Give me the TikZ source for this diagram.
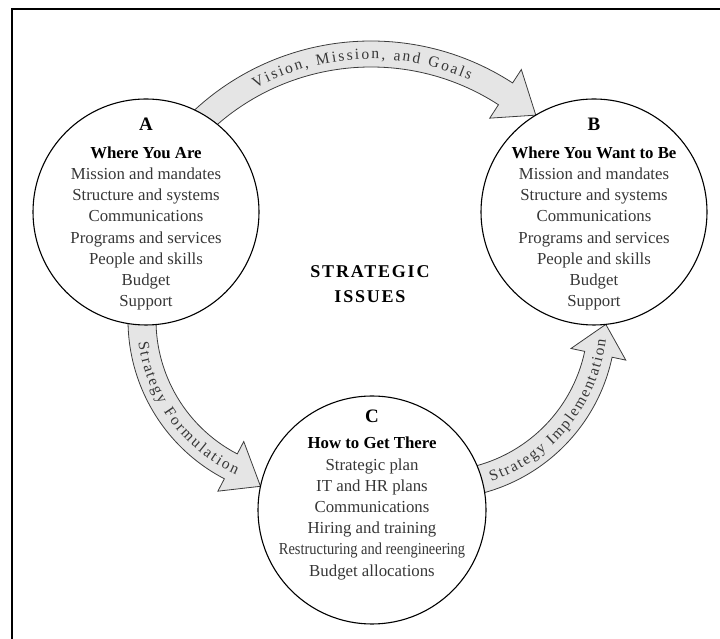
\documentclass[tikz,border=0pt]{standalone}
\usepackage{fontspec}
\setmainfont{Liberation Serif}
\usetikzlibrary{calc,backgrounds,decorations.text}

\definecolor{bandfill}{RGB}{229,229,229}
\definecolor{bandline}{RGB}{60,60,60}
\definecolor{bodygray}{RGB}{55,55,55}
\newcommand{\bandfont}{\fontsize{15.5}{15.5}\selectfont}
\newcommand{\stageletter}[1]{{\fontsize{19}{21}\selectfont\bfseries\color{black}#1}}
\newcommand{\stagehead}[1]{{\bfseries\color{black}#1}}

\begin{document}
\begin{tikzpicture}[
            x=1pt, y=1pt,
            stage/.style={circle, draw=black, line width=1.1pt, fill=white, minimum size=226pt, inner sep=0pt, outer sep=0pt},
            stagetext/.style={align=center, text=bodygray, font=\fontsize{16.8}{21.2}\selectfont},
            band/.style={draw=bandline, line width=0.8pt, fill=bandfill},
            bandtext/.style={decorate, decoration={text along path, text align={fit to path}, raise=-5pt, text color=bodygray}}
        ]
            \useasboundingbox (0,0) rectangle (720,639);
            \clip (0,0) rectangle (720,639);

            % the three stages
            \node[stage] (A) at (146,427) {};
            \node[stage] (B) at (594,427) {};
            \node[stage, minimum size=228pt] (C) at (372,129) {};

            % centres of the curved arrows
            \coordinate (vis) at (371,338);
            \coordinate (frm) at (307,319);
            \coordinate (imp) at (437,319);

            \begin{scope}[on background layer]
                \draw[line width=1.8pt] (11.8,-10) rectangle (740,630);

                % A -> B
                \draw[band] ($(vis)+(135:260)$) arc[start angle=135, end angle=57, radius=260]
                    -- ($(vis)+(57:276)$) -- (B.121) -- ($(vis)+(57:218)$)
                    -- ($(vis)+(57:234)$) arc[start angle=57, end angle=135, radius=234] -- cycle;
                \path[bandtext, decoration={text={|\bandfont|Vision, Mission, and Goals}}]
                    ($(vis)+(118.5:247)$) arc[start angle=118.5, end angle=66, radius=247];

                % A -> C
                \draw[band] ($(frm)+(-185:179)$) arc[start angle=-185, end angle=-117.5, radius=179]
                    -- ($(frm)+(-117.5:193)$) -- (C.168) -- ($(frm)+(-117.5:137)$)
                    -- ($(frm)+(-117.5:151)$) arc[start angle=-117.5, end angle=-185, radius=151] -- cycle;
                \path[bandtext, decoration={text={|\bandfont|Strategy Formulation}}]
                    ($(frm)+(-172.5:165)$) arc[start angle=-172.5, end angle=-114.6, radius=165];

                % C -> B
                \draw[band] ($(imp)+(-80:179)$) arc[start angle=-80, end angle=-12, radius=179]
                    -- ($(imp)+(-12:193)$) -- (B.-84) -- ($(imp)+(-12:137)$)
                    -- ($(imp)+(-12:151)$) arc[start angle=-12, end angle=-80, radius=151] -- cycle;
                \path[bandtext, decoration={text={|\bandfont|Strategy Implementation}}]
                    ($(imp)+(-71.4:165)$) arc[start angle=-71.4, end angle=-6.7, radius=165];
            \end{scope}

            \node[stagetext] (Atext) at ([yshift=-2]A.center) {\stageletter{A}\\[7pt]
                \stagehead{Where You Are}\\ Mission and mandates\\ Structure and systems\\
                Communications\\ Programs and services\\ People and skills\\ Budget\\ Support};
            \node[stagetext] (Btext) at ([yshift=-2]B.center) {\stageletter{B}\\[7pt]
                \stagehead{Where You Want to Be}\\ Mission and mandates\\ Structure and systems\\
                Communications\\ Programs and services\\ People and skills\\ Budget\\ Support};
            \node[stagetext] (Ctext) at ([yshift=15]C.center) {\stageletter{C}\\[5pt]
                \stagehead{How to Get There}\\ Strategic plan\\ IT and HR plans\\ Communications\\
                Hiring and training\\ \scalebox{0.86}[1]{Restructuring and reengineering}\\ Budget allocations};

            \node[align=center, font=\fontsize{18}{25}\selectfont\bfseries\addfontfeatures{LetterSpace=10}] (issues) at (370,355) {STRATEGIC\\ISSUES};
        \end{tikzpicture}
\end{document}
